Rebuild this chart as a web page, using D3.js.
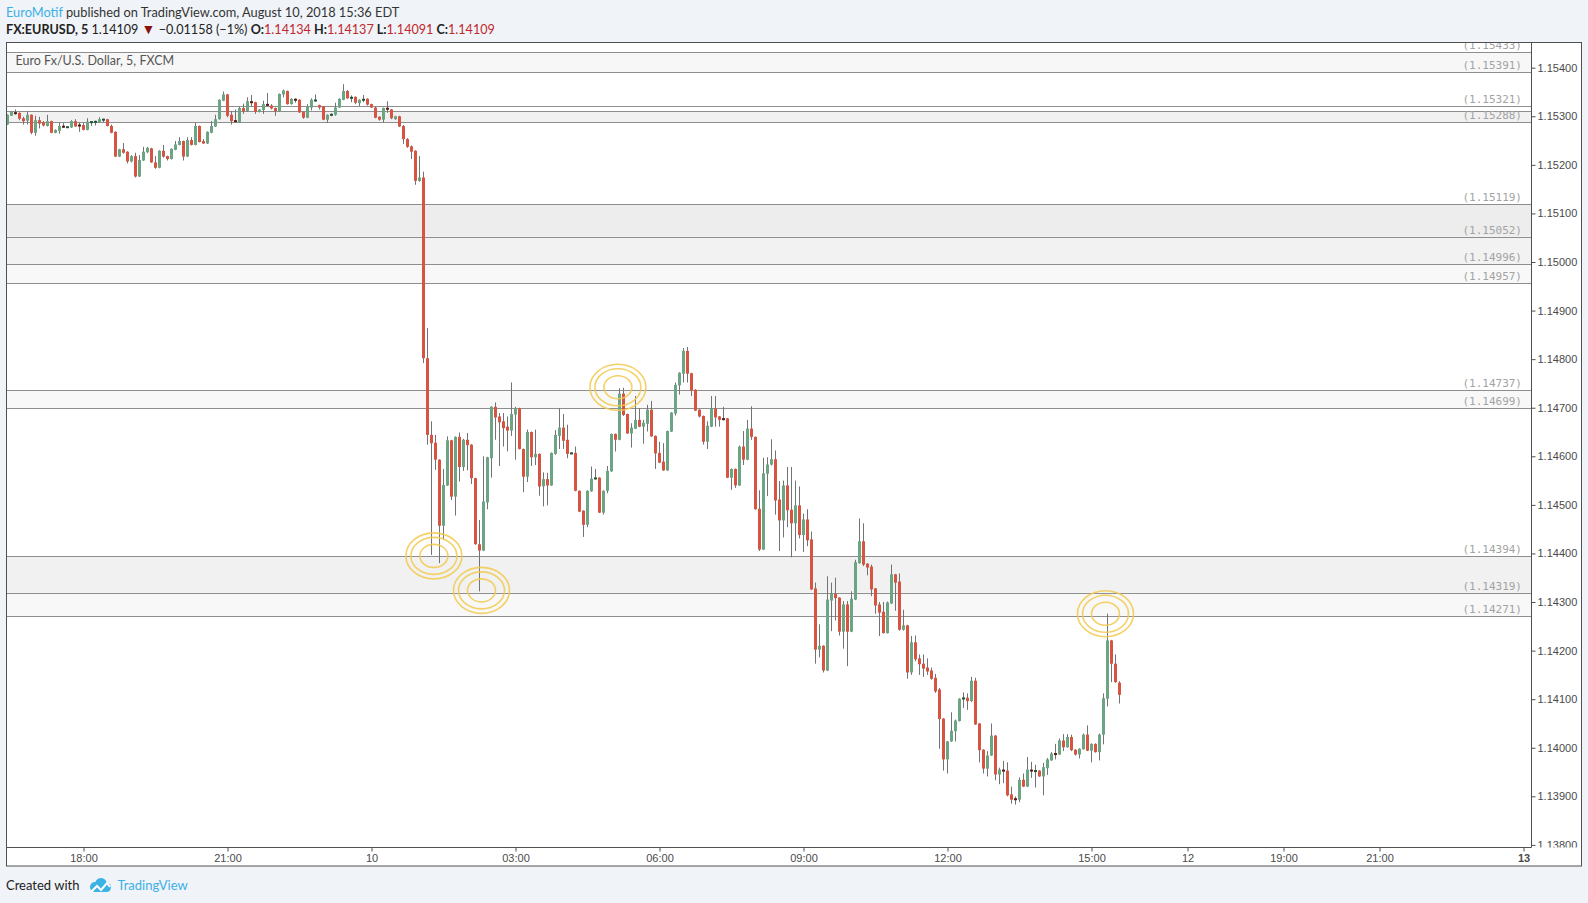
<!DOCTYPE html>
<html>
<head>
<meta charset="utf-8">
<style>
  body { margin: 0; background: #f0f3f7; }
  svg { display: block; }
</style>
</head>
<body>
<svg id="chart" width="1588" height="903"></svg>
<script src="https://d3js.org/d3.v7.min.js"></script>
<script>

// EURUSD 5 min bars, bar 0 = Aug 9 18:00
var firstBar = -19;

var opens = [
  1.15283,1.15301,1.15308,1.15307,1.15296,1.15291,1.15303,1.15266,1.15292,1.15288,
  1.15280,1.15290,1.15266,1.15270,1.15280,1.15277,1.15277,1.15290,1.15282,1.15282,
  1.15272,1.15287,1.15287,1.15287,1.15292,1.15294,1.15280,1.15268,1.15217,1.15232,
  1.15227,1.15207,1.15218,1.15176,1.15209,1.15226,1.15234,1.15205,1.15194,1.15229,
  1.15218,1.15212,1.15231,1.15241,1.15249,1.15217,1.15251,1.15241,1.15280,1.15249,
  1.15244,1.15266,1.15279,1.15294,1.15332,1.15345,1.15303,1.15292,1.15288,1.15317,
  1.15311,1.15331,1.15329,1.15309,1.15313,1.15325,1.15322,1.15317,1.15310,1.15345,
  1.15352,1.15325,1.15336,1.15334,1.15309,1.15297,1.15318,1.15331,1.15323,1.15320,
  1.15293,1.15301,1.15303,1.15318,1.15334,1.15352,1.15336,1.15340,1.15327,1.15332,
  1.15336,1.15325,1.15318,1.15299,1.15293,1.15317,1.15314,1.15294,1.15300,1.15280,
  1.15253,1.15238,1.15229,1.15167,1.15174,1.14802,1.14644,1.14628,1.14593,1.14457,
  1.14540,1.14633,1.14517,1.14640,1.14578,1.14634,1.14624,1.14555,1.14419,1.14406,
  1.14505,1.14596,1.14702,1.14682,1.14672,1.14661,1.14653,1.14686,1.14699,1.14615,
  1.14558,1.14650,1.14598,1.14605,1.14538,1.14553,1.14540,1.14605,1.14642,1.14659,
  1.14634,1.14605,1.14607,1.14529,1.14488,1.14459,1.14528,1.14553,1.14556,1.14484,
  1.14529,1.14569,1.14646,1.14634,1.14729,1.14687,1.14647,1.14657,1.14675,1.14661,
  1.14667,1.14696,1.14642,1.14607,1.14589,1.14571,1.14651,1.14688,1.14746,1.14770,
  1.14817,1.14771,1.14737,1.14696,1.14683,1.14630,1.14661,1.14698,1.14682,1.14678,
  1.14678,1.14556,1.14574,1.14540,1.14620,1.14593,1.14657,1.14640,1.14492,1.14408,
  1.14564,1.14583,1.14594,1.14511,1.14468,1.14540,1.14490,1.14462,1.14499,1.14438,
  1.14470,1.14429,1.14328,1.14202,1.14210,1.14159,1.14303,1.14317,1.14309,1.14239,
  1.14295,1.14239,1.14305,1.14380,1.14425,1.14379,1.14373,1.14328,1.14295,1.14280,
  1.14236,1.14297,1.14357,1.14342,1.14243,1.14252,1.14155,1.14217,1.14184,1.14173,
  1.14165,1.14159,1.14144,1.14120,1.14060,1.13976,1.14013,1.14034,1.14055,1.14100,
  1.14103,1.14096,1.14138,1.14050,1.13996,1.13957,1.13984,1.14025,1.13945,1.13955,
  1.13953,1.13904,1.13895,1.13893,1.13934,1.13920,1.13955,1.13951,1.13953,1.13941,
  1.13958,1.13974,1.13988,1.13986,1.14015,1.14001,1.14022,1.13996,1.13986,1.13997,
  1.14027,1.13994,1.14008,1.13991,1.14027,1.14101,1.14221,1.14173,1.14134
];
var highs = [
  1.15304,1.15311,1.15314,1.15308,1.15299,1.15310,1.15304,1.15301,1.15299,1.15290,
  1.15303,1.15291,1.15273,1.15287,1.15286,1.15279,1.15292,1.15294,1.15287,1.15286,
  1.15296,1.15290,1.15291,1.15298,1.15295,1.15295,1.15283,1.15269,1.15233,1.15245,
  1.15228,1.15220,1.15225,1.15220,1.15237,1.15237,1.15235,1.15218,1.15230,1.15241,
  1.15219,1.15234,1.15249,1.15257,1.15250,1.15257,1.15257,1.15287,1.15281,1.15253,
  1.15269,1.15290,1.15303,1.15335,1.15351,1.15346,1.15311,1.15314,1.15320,1.15326,
  1.15339,1.15344,1.15330,1.15315,1.15332,1.15348,1.15325,1.15318,1.15347,1.15355,
  1.15353,1.15337,1.15337,1.15335,1.15310,1.15325,1.15337,1.15345,1.15324,1.15321,
  1.15304,1.15306,1.15328,1.15337,1.15366,1.15354,1.15343,1.15341,1.15335,1.15344,
  1.15337,1.15326,1.15319,1.15300,1.15318,1.15331,1.15315,1.15301,1.15301,1.15282,
  1.15255,1.15240,1.15230,1.15218,1.15186,1.14864,1.14672,1.14644,1.14594,1.14574,
  1.14641,1.14634,1.14641,1.14649,1.14636,1.14648,1.14625,1.14556,1.14469,1.14600,
  1.14599,1.14703,1.14711,1.14689,1.14689,1.14682,1.14752,1.14702,1.14700,1.14616,
  1.14655,1.14651,1.14655,1.14606,1.14567,1.14566,1.14608,1.14654,1.14699,1.14687,
  1.14665,1.14608,1.14620,1.14530,1.14489,1.14530,1.14579,1.14574,1.14557,1.14530,
  1.14580,1.14647,1.14647,1.14740,1.14741,1.14688,1.14668,1.14724,1.14699,1.14675,
  1.14706,1.14714,1.14643,1.14630,1.14627,1.14653,1.14691,1.14752,1.14773,1.14823,
  1.14825,1.14772,1.14738,1.14697,1.14684,1.14672,1.14724,1.14724,1.14683,1.14702,
  1.14679,1.14575,1.14575,1.14622,1.14652,1.14675,1.14703,1.14641,1.14530,1.14597,
  1.14598,1.14635,1.14612,1.14549,1.14550,1.14578,1.14578,1.14550,1.14538,1.14482,
  1.14491,1.14445,1.14340,1.14254,1.14211,1.14353,1.14340,1.14350,1.14310,1.14302,
  1.14302,1.14322,1.14387,1.14472,1.14462,1.14380,1.14377,1.14329,1.14300,1.14300,
  1.14301,1.14377,1.14358,1.14359,1.14284,1.14253,1.14230,1.14231,1.14192,1.14192,
  1.14184,1.14165,1.14152,1.14123,1.14061,1.14014,1.14073,1.14058,1.14102,1.14114,
  1.14112,1.14146,1.14144,1.14051,1.13997,1.13993,1.14050,1.14026,1.13959,1.13973,
  1.13970,1.13920,1.13900,1.13939,1.13947,1.13981,1.13971,1.13965,1.13954,1.13969,
  1.13979,1.13991,1.14008,1.14019,1.14028,1.14028,1.14027,1.13997,1.13999,1.14029,
  1.14046,1.14009,1.14009,1.14029,1.14112,1.14276,1.14222,1.14192,1.14137
];
var lows = [
  1.15282,1.15301,1.15303,1.15292,1.15283,1.15283,1.15263,1.15260,1.15275,1.15279,
  1.15279,1.15265,1.15265,1.15264,1.15276,1.15276,1.15276,1.15278,1.15268,1.15271,
  1.15271,1.15280,1.15281,1.15286,1.15288,1.15279,1.15265,1.15216,1.15216,1.15223,
  1.15203,1.15205,1.15174,1.15175,1.15208,1.15224,1.15204,1.15192,1.15193,1.15215,
  1.15209,1.15211,1.15230,1.15240,1.15209,1.15216,1.15240,1.15240,1.15246,1.15243,
  1.15243,1.15265,1.15278,1.15293,1.15331,1.15298,1.15283,1.15287,1.15287,1.15305,
  1.15309,1.15320,1.15305,1.15308,1.15305,1.15321,1.15314,1.15301,1.15309,1.15339,
  1.15324,1.15324,1.15328,1.15307,1.15295,1.15296,1.15312,1.15330,1.15314,1.15292,
  1.15286,1.15300,1.15301,1.15317,1.15333,1.15336,1.15329,1.15325,1.15321,1.15329,
  1.15322,1.15317,1.15296,1.15291,1.15287,1.15307,1.15294,1.15293,1.15278,1.15243,
  1.15235,1.15212,1.15159,1.15165,1.14792,1.14624,1.14397,1.14572,1.14380,1.14428,
  1.14539,1.14510,1.14478,1.14548,1.14570,1.14571,1.14543,1.14418,1.14322,1.14405,
  1.14491,1.14556,1.14634,1.14580,1.14620,1.14610,1.14642,1.14593,1.14614,1.14526,
  1.14547,1.14580,1.14582,1.14519,1.14497,1.14499,1.14539,1.14603,1.14615,1.14615,
  1.14596,1.14604,1.14528,1.14485,1.14434,1.14454,1.14527,1.14552,1.14483,1.14480,
  1.14524,1.14568,1.14610,1.14633,1.14683,1.14646,1.14618,1.14656,1.14660,1.14626,
  1.14651,1.14640,1.14574,1.14586,1.14570,1.14570,1.14650,1.14684,1.14727,1.14752,
  1.14752,1.14724,1.14693,1.14680,1.14624,1.14615,1.14660,1.14661,1.14661,1.14674,
  1.14555,1.14531,1.14535,1.14539,1.14582,1.14592,1.14634,1.14490,1.14405,1.14407,
  1.14518,1.14581,1.14480,1.14405,1.14433,1.14454,1.14392,1.14405,1.14431,1.14403,
  1.14415,1.14325,1.14173,1.14186,1.14155,1.14158,1.14240,1.14262,1.14231,1.14204,
  1.14168,1.14238,1.14304,1.14379,1.14374,1.14355,1.14312,1.14276,1.14230,1.14235,
  1.14235,1.14296,1.14282,1.14241,1.14241,1.14142,1.14150,1.14178,1.14150,1.14146,
  1.14150,1.14140,1.14113,1.13998,1.13953,1.13947,1.14012,1.14013,1.14054,1.14082,
  1.14078,1.14094,1.14047,1.13970,1.13947,1.13941,1.13983,1.13933,1.13925,1.13927,
  1.13900,1.13885,1.13883,1.13888,1.13919,1.13919,1.13938,1.13918,1.13940,1.13902,
  1.13944,1.13973,1.13976,1.13985,1.13993,1.14000,1.13993,1.13984,1.13978,1.13996,
  1.13993,1.13970,1.13990,1.13974,1.14007,1.14085,1.14135,1.14134,1.14091
];
var closes = [
  1.15303,1.15310,1.15305,1.15295,1.15290,1.15303,1.15266,1.15292,1.15285,1.15281,
  1.15290,1.15266,1.15272,1.15280,1.15277,1.15278,1.15290,1.15279,1.15280,1.15272,
  1.15289,1.15289,1.15290,1.15294,1.15294,1.15280,1.15266,1.15217,1.15232,1.15225,
  1.15207,1.15218,1.15176,1.15210,1.15227,1.15235,1.15205,1.15194,1.15229,1.15217,
  1.15212,1.15233,1.15242,1.15249,1.15217,1.15251,1.15241,1.15280,1.15247,1.15244,
  1.15268,1.15280,1.15294,1.15334,1.15345,1.15301,1.15290,1.15288,1.15317,1.15310,
  1.15331,1.15327,1.15309,1.15314,1.15325,1.15322,1.15316,1.15310,1.15346,1.15353,
  1.15325,1.15336,1.15332,1.15308,1.15297,1.15320,1.15334,1.15334,1.15318,1.15293,
  1.15303,1.15305,1.15318,1.15336,1.15352,1.15337,1.15340,1.15328,1.15334,1.15336,
  1.15324,1.15318,1.15297,1.15293,1.15317,1.15314,1.15296,1.15300,1.15279,1.15253,
  1.15237,1.15227,1.15167,1.15174,1.14802,1.14644,1.14627,1.14593,1.14457,1.14541,
  1.14633,1.14517,1.14640,1.14578,1.14634,1.14623,1.14555,1.14419,1.14406,1.14507,
  1.14598,1.14702,1.14680,1.14670,1.14658,1.14653,1.14687,1.14699,1.14615,1.14558,
  1.14650,1.14598,1.14605,1.14538,1.14553,1.14540,1.14607,1.14644,1.14659,1.14632,
  1.14605,1.14607,1.14529,1.14486,1.14459,1.14529,1.14554,1.14556,1.14484,1.14529,
  1.14570,1.14646,1.14634,1.14729,1.14685,1.14647,1.14659,1.14675,1.14661,1.14669,
  1.14696,1.14641,1.14606,1.14587,1.14571,1.14652,1.14690,1.14747,1.14772,1.14817,
  1.14770,1.14735,1.14694,1.14682,1.14630,1.14663,1.14698,1.14680,1.14675,1.14675,
  1.14556,1.14574,1.14540,1.14620,1.14593,1.14657,1.14640,1.14491,1.14408,1.14565,
  1.14583,1.14594,1.14509,1.14468,1.14540,1.14489,1.14462,1.14499,1.14438,1.14470,
  1.14427,1.14326,1.14202,1.14210,1.14159,1.14305,1.14317,1.14308,1.14239,1.14295,
  1.14239,1.14307,1.14382,1.14425,1.14377,1.14371,1.14326,1.14293,1.14278,1.14236,
  1.14299,1.14357,1.14340,1.14243,1.14252,1.14155,1.14217,1.14182,1.14172,1.14163,
  1.14157,1.14142,1.14116,1.14059,1.13976,1.14013,1.14035,1.14056,1.14101,1.14103,
  1.14096,1.14138,1.14048,1.13995,1.13957,1.13984,1.14025,1.13945,1.13955,1.13951,
  1.13902,1.13893,1.13893,1.13934,1.13920,1.13955,1.13951,1.13953,1.13941,1.13960,
  1.13976,1.13988,1.13986,1.14015,1.14001,1.14022,1.13995,1.13986,1.13998,1.14027,
  1.13994,1.14008,1.13991,1.14027,1.14102,1.14221,1.14173,1.14135,1.14109
];

var priceTicks = [1.138, 1.139, 1.140, 1.141, 1.142, 1.143, 1.144, 1.145, 1.146,
                  1.147, 1.148, 1.149, 1.150, 1.151, 1.152, 1.153, 1.154];
var timeTicks = [[0, "18:00"], [36, "21:00"], [72, "10"], [108, "03:00"], [144, "06:00"],
                 [180, "09:00"], [216, "12:00"], [252, "15:00"], [276, "12"],
                 [300, "19:00"], [324, "21:00"], [360, "13"]];

// horizontal levels drawn on the chart, with shaded zones between some of them
var levels = [1.15433, 1.15391, 1.15321, 1.15288, 1.15119, 1.15052, 1.14996, 1.14957,
              1.14737, 1.14699, 1.14394, 1.14319, 1.14271];
var zones = [[1.15433, 1.15391, "#f7f7f7"], [1.15311, 1.15288, "#f1f1f1"],
             [1.15119, 1.15052, "#ededed"], [1.15052, 1.14996, "#f2f2f2"],
             [1.14996, 1.14957, "#f8f8f8"], [1.14737, 1.14699, "#f8f8f8"],
             [1.14394, 1.14319, "#f1f1f1"], [1.14319, 1.14271, "#f8f8f8"]];
// target rings: [bar, price]
var targets = [[87.6, 1.14395], [99.5, 1.14324], [133.6, 1.14742], [255.5, 1.14276]];

var svg = d3.select("#chart");
var plot = {left: 7, top: 43, right: 1531.5, bottom: 847.5};

var x = d3.scaleLinear().domain([0, 360]).range([83.5, 1523.5]);
var y = d3.scaleLinear().domain([1.138, 1.154]).range([844.9, 67.7]);

var bars = opens.map(function(o, k) {
  return {bar: firstBar + k, o: o, h: highs[k], l: lows[k], c: closes[k]};
});

svg.append("rect").attr("width", 1588).attr("height", 903).attr("fill", "#f0f3f7");

// frame
svg.append("rect")
    .attr("x", 6.5).attr("y", 42.5).attr("width", 1575).attr("height", 823.5)
    .attr("fill", "#fff").attr("stroke", "#505050");

var defs = svg.append("defs");
defs.append("clipPath").attr("id", "plotclip").append("rect")
    .attr("x", plot.left).attr("y", plot.top)
    .attr("width", plot.right - plot.left - 0.5).attr("height", plot.bottom - plot.top - 0.5);
defs.append("clipPath").attr("id", "axisclip").append("rect")
    .attr("x", plot.right).attr("y", plot.top).attr("width", 52).attr("height", plot.bottom - plot.top);

var g = svg.append("g").attr("clip-path", "url(#plotclip)");

g.selectAll(".zone").data(zones).enter().append("rect")
    .attr("x", plot.left).attr("width", plot.right - plot.left)
    .attr("y", function(d) { return y(d[0]); })
    .attr("height", function(d) { return y(d[1]) - y(d[0]); })
    .attr("fill", function(d) { return d[2]; });

var lineVals = levels.concat([1.15311]);
g.selectAll(".lvl").data(lineVals).enter().append("line")
    .attr("x1", plot.left).attr("x2", plot.right)
    .attr("y1", function(d) { return Math.round(y(d)) + 0.5; })
    .attr("y2", function(d) { return Math.round(y(d)) + 0.5; })
    .attr("stroke", "#8e8e8e").attr("stroke-width", 1);

g.selectAll(".lvltxt").data(levels).enter().append("text")
    .attr("x", 1522).attr("y", function(d) { return Math.round(y(d)) - 3; })
    .attr("text-anchor", "end")
    .attr("font-family", "DejaVu Sans Mono, monospace").attr("font-size", 11)
    .attr("fill", "#a3a3a3")
    .text(function(d) { return "(" + d.toFixed(5) + ")"; });

// candles
var cg = g.append("g");
cg.selectAll(".wick").data(bars).enter().append("line")
    .attr("x1", function(d) { return Math.floor(x(d.bar)) + 0.5; })
    .attr("x2", function(d) { return Math.floor(x(d.bar)) + 0.5; })
    .attr("y1", function(d) { return y(d.h); })
    .attr("y2", function(d) { return y(d.l); })
    .attr("stroke", "#737375").attr("stroke-width", 1);

cg.selectAll(".body").data(bars).enter().append("rect")
    .each(function(d) {
      var top = y(Math.max(d.o, d.c)), bot = y(Math.min(d.o, d.c));
      var up = d.c >= d.o;
      var h = bot - top, fill = up ? "#6ba583" : "#d75442";
      if (h < 2.2) {
        fill = up ? "#225437" : "#5b1a13";
        top = (top + bot) / 2 - 1; h = 2;
      }
      d3.select(this)
          .attr("x", Math.floor(x(d.bar)) - 1).attr("width", 3)
          .attr("y", top).attr("height", h).attr("fill", fill);
    });

// target rings
var rings = [[28, 23], [23, 18.5], [14, 11.5]];
targets.forEach(function(t) {
  g.selectAll(null).data(rings).enter().append("ellipse")
      .attr("cx", x(t[0])).attr("cy", y(t[1]))
      .attr("rx", function(r) { return r[0]; })
      .attr("ry", function(r) { return r[1]; })
      .attr("fill", "none").attr("stroke", "#f2c94c")
      .attr("stroke-opacity", 0.85).attr("stroke-width", 1.6);
});

g.append("text").attr("x", 15.5).attr("y", 65)
    .attr("font-family", "Lato, sans-serif").attr("font-size", 12.5).attr("fill", "#555")
    .text("Euro Fx/U.S. Dollar, 5, FXCM");

// axes lines
svg.append("line").attr("x1", plot.right).attr("x2", plot.right)
    .attr("y1", 42.5).attr("y2", plot.bottom).attr("stroke", "#505050");
svg.append("line").attr("x1", 6.5).attr("x2", plot.right)
    .attr("y1", plot.bottom).attr("y2", plot.bottom).attr("stroke", "#505050");

var yAxis = d3.axisRight(y).tickValues(priceTicks)
    .tickFormat(d3.format(".5f")).tickSize(4).tickPadding(2);
var ya = svg.append("g").attr("clip-path", "url(#axisclip)")
    .append("g").attr("transform", "translate(" + plot.right + ",0)").call(yAxis);

var xAxis = d3.axisBottom(x).tickValues(timeTicks.map(function(t) { return t[0]; }))
    .tickFormat(function(v) { return timeTicks.find(function(t) { return t[0] === v; })[1]; })
    .tickSize(4).tickPadding(3);
var xa = svg.append("g").attr("transform", "translate(0," + plot.bottom + ")").call(xAxis);

[ya, xa].forEach(function(a) {
  a.select(".domain").remove();
  a.selectAll(".tick line").attr("stroke", "#505050");
  a.selectAll("text").attr("fill", "#4a4a4a")
      .attr("font-family", "Liberation Sans, Arial, sans-serif").attr("font-size", 11);
});
xa.selectAll(".tick text").filter(function(v) { return v === 360; }).attr("font-weight", "bold");

// header
var h1 = svg.append("text").attr("x", 6).attr("y", 17)
    .attr("font-family", "Lato, sans-serif").attr("font-size", 12.8).attr("fill", "#333");
h1.append("tspan").attr("fill", "#3bb0e6").text("EuroMotif");
h1.append("tspan").text(" published on TradingView.com, August 10, 2018 15:36 EDT");

var h2 = svg.append("text").attr("x", 6).attr("y", 33.5)
    .attr("font-family", "Lato, sans-serif").attr("font-size", 12.6).attr("fill", "#222");
var red = "#c0282d";
h2.append("tspan").attr("font-weight", "bold").text("FX:EURUSD, 5");
h2.append("tspan").text(" 1.14109 ");
h2.append("tspan").attr("fill", "#8b1010").attr("font-size", 14).text("▼");
h2.append("tspan").text(" −0.01158 (−1%) ");
[["O:", "1.14134"], [" H:", "1.14137"], [" L:", "1.14091"], [" C:", "1.14109"]].forEach(function(p) {
  h2.append("tspan").attr("font-weight", "bold").text(p[0]);
  h2.append("tspan").attr("fill", red).text(p[1]);
});

// footer
svg.append("text").attr("x", 6).attr("y", 889.5)
    .attr("font-family", "Lato, sans-serif").attr("font-size", 13).attr("fill", "#222")
    .text("Created with");
var logo = svg.append("g").attr("transform", "translate(88,878)").attr("fill", "#3bb3e4");
logo.append("circle").attr("cx", 7).attr("cy", 9).attr("r", 5);
logo.append("circle").attr("cx", 13).attr("cy", 6).attr("r", 6);
logo.append("circle").attr("cx", 18.5).attr("cy", 9.5).attr("r", 4.5);
logo.append("rect").attr("x", 7).attr("y", 8).attr("width", 11.5).attr("height", 6);
logo.append("polyline").attr("points", "3,14 9,8 13,12 19,5 22,9")
    .attr("fill", "none").attr("stroke", "#fff").attr("stroke-width", 2);
svg.append("text").attr("x", 117.5).attr("y", 889.5)
    .attr("font-family", "Lato, sans-serif").attr("font-size", 13).attr("fill", "#3bb0e6")
    .text("TradingView");

</script>
</body>
</html>
